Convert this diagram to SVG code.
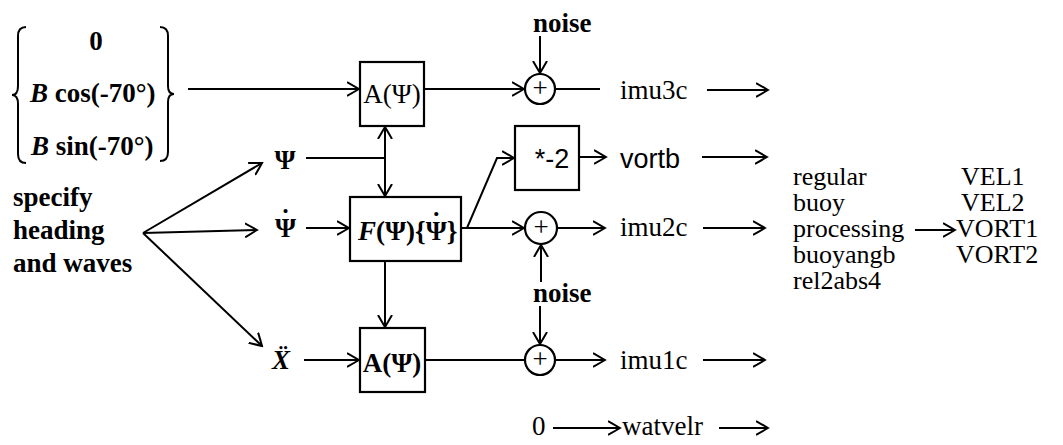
<svg xmlns="http://www.w3.org/2000/svg" width="1063" height="445" viewBox="0 0 1063 445">
<style>
.t{font-family:"Liberation Serif","Times New Roman",Times,"DejaVu Serif",serif;font-size:27px;fill:#000}
.r{font-size:26px}
.b{font-weight:bold}
.i{font-style:italic}
.s{font-family:"Liberation Sans",Arial,sans-serif;font-size:27px;fill:#000}
.ln{fill:none;stroke:#000;stroke-width:2}
.bx{fill:#fff;stroke:#000;stroke-width:2.2}
</style>
<defs>
<marker id="ah" markerWidth="14" markerHeight="16" refX="12" refY="8" orient="auto" markerUnits="userSpaceOnUse">
<path d="M0,1 Q7,5 12,8 Q7,11 0,15" fill="none" stroke="#000" stroke-width="2"/>
</marker>
</defs>
<rect width="1063" height="445" fill="#fff"/>

<g id="connectors" class="ln">
<path d="M188,89 H359" marker-end="url(#ah)"/>
<path d="M424,89 H524" marker-end="url(#ah)"/>
<path d="M540,36 V73" marker-end="url(#ah)"/>
<path d="M555,89 H600"/>
<path d="M707,90 H768" marker-end="url(#ah)"/>
<path d="M306,158 H385"/>
<path d="M385,158 V127" marker-end="url(#ah)"/>
<path d="M385,158 V196" marker-end="url(#ah)"/>
<path d="M143,233 L262,163" marker-end="url(#ah)"/>
<path d="M143,233 L257,230" marker-end="url(#ah)"/>
<path d="M143,233 L262,346" marker-end="url(#ah)"/>
<path d="M306,228 H349" marker-end="url(#ah)"/>
<path d="M461,228 H467 L497,158 H514" marker-end="url(#ah)"/>
<path d="M579,157 H606" marker-end="url(#ah)"/>
<path d="M702,157 H767" marker-end="url(#ah)"/>
<path d="M461,228 H524" marker-end="url(#ah)"/>
<path d="M557,228 H605" marker-end="url(#ah)"/>
<path d="M703,228 H765" marker-end="url(#ah)"/>
<path d="M541,282 V245" marker-end="url(#ah)"/>
<path d="M385,261 V327" marker-end="url(#ah)"/>
<path d="M304,360 H359" marker-end="url(#ah)"/>
<path d="M425,360 H525"/>
<path d="M540,306 V344" marker-end="url(#ah)"/>
<path d="M555,360 H605" marker-end="url(#ah)"/>
<path d="M703,360 H765" marker-end="url(#ah)"/>
<path d="M553,428 H620" marker-end="url(#ah)"/>
<path d="M719,428 H768" marker-end="url(#ah)"/>
<path d="M915,230 H955" marker-end="url(#ah)"/>
</g>

<g id="input-vector">
<path class="ln" d="M26,27 Q18,27 18,36 L18,86 Q18,95 12,95 Q18,95 18,104 L18,154 Q18,163 26,163"/>
<path class="ln" d="M160,27 Q168,27 168,36 L168,86 Q168,94 174,94 Q168,94 168,102 L168,152 Q168,161 160,161"/>
<text class="t b" x="96" y="50" text-anchor="middle">0</text>
<text class="t b" x="30" y="102"><tspan class="i">B</tspan> cos(-70°)</text>
<text class="t b" x="31" y="155"><tspan class="i">B</tspan> sin(-70°)</text>
</g>

<g id="specify">
<text class="t b" x="13" y="206">specify</text>
<text class="t b" x="13" y="239">heading</text>
<text class="t b" x="13" y="272">and waves</text>
</g>

<g id="psi"><text class="t b" x="285" y="169" text-anchor="middle">Ψ</text></g>
<g id="psidot"><text class="t b" x="275" y="237">Ψ<tspan dx="-15" dy="-9">˙</tspan></text></g>
<g id="xddot"><text class="t b i" x="281" y="369" text-anchor="middle">Ẍ</text></g>

<g id="A-upper">
<rect class="bx" x="360" y="62" width="64" height="64"/>
<text class="t" x="392" y="103" text-anchor="middle">A(Ψ)</text>
</g>

<g id="F-box">
<rect class="bx" x="350" y="197" width="111" height="64"/>
<text class="t b" x="358" y="240"><tspan class="i">F</tspan>(Ψ){Ψ<tspan dx="-15" dy="-9">˙</tspan><tspan dx="6" dy="9">}</tspan></text>
</g>

<g id="A-lower">
<rect class="bx" x="360" y="328" width="65" height="64"/>
<text class="t b" x="392" y="372" text-anchor="middle">A(Ψ)</text>
</g>

<g id="times-minus2">
<rect class="bx" x="515" y="126" width="64" height="64"/>
<text class="s" x="552" y="168" text-anchor="middle">*-2</text>
</g>

<g id="sum-top">
<circle class="bx" cx="540" cy="89" r="15"/>
<text class="t" x="540" y="97" text-anchor="middle" font-size="22">+</text>
</g>
<g id="sum-mid">
<circle class="bx" cx="541" cy="228" r="16"/>
<text class="t" x="541" y="236" text-anchor="middle" font-size="22">+</text>
</g>
<g id="sum-low">
<circle class="bx" cx="540" cy="360" r="15"/>
<text class="t" x="540" y="368" text-anchor="middle" font-size="22">+</text>
</g>

<g id="noise-top"><text class="t b" x="533" y="32">noise</text></g>
<g id="noise-mid"><text class="t b" x="533" y="302">noise</text></g>

<g id="outputs">
<text class="t" x="620" y="99">imu3c</text>
<text class="s" x="620" y="168">vortb</text>
<text class="t" x="620" y="236">imu2c</text>
<text class="t" x="620" y="369">imu1c</text>
<text class="t" x="532" y="435">0</text>
<text class="t" x="622" y="435">watvelr</text>
</g>

<g id="processing">
<text class="t r" x="793" y="185">regular</text>
<text class="t r" x="793" y="211">buoy</text>
<text class="t r" x="793" y="237">processing</text>
<text class="t r" x="793" y="263">buoyangb</text>
<text class="t r" x="793" y="289">rel2abs4</text>
</g>

<g id="results">
<text class="t r" x="961" y="185">VEL1</text>
<text class="t r" x="961" y="211">VEL2</text>
<text class="t r" x="956" y="237">VORT1</text>
<text class="t r" x="956" y="263">VORT2</text>
</g>
</svg>
